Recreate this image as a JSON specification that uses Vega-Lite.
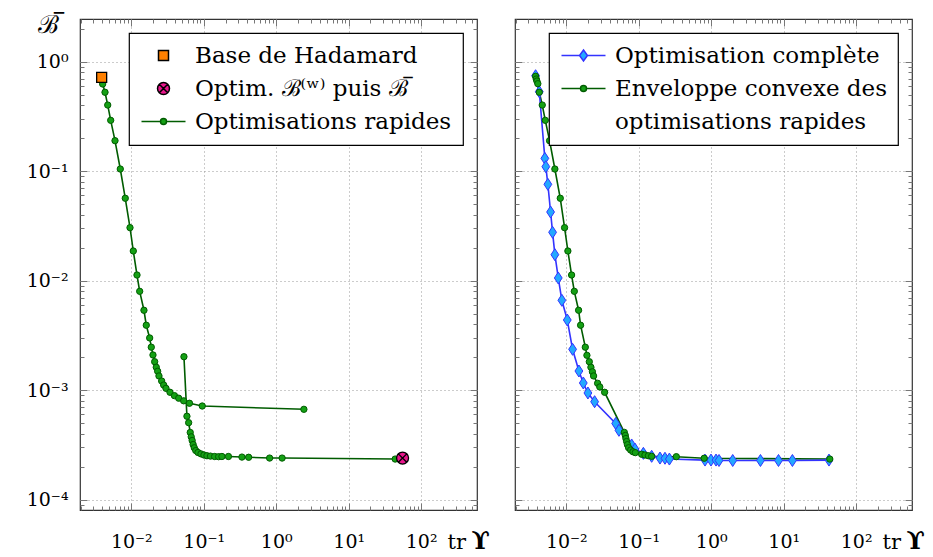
{
  "$schema": "https://vega.github.io/schema/vega-lite/v6.json",
  "background": "white",
  "padding": {"left": 25, "top": 11, "right": 0, "bottom": 0},
  "spacing": 38,
  "bounds": "flush",
  "config": {
    "font": "DejaVu Serif",
    "view": {"stroke": "#333", "strokeWidth": 1.2},
    "axis": {"domain": false, "labelFont": "DejaVu Serif", "titleFont": "DejaVu Serif", "labelColor": "black", "titleColor": "black", "tickColor": "#777", "tickWidth": 1, "gridColor": "#999", "gridDash": [1, 3], "gridWidth": 1, "labelOverlap": false, "labelFlush": false},
    "legend": {"orient": "top-right", "offset": 14, "padding": 11, "strokeColor": "black", "fillColor": "white", "strokeWidth": 1.2, "labelFont": "DejaVu Serif", "labelFontSize": 23, "labelColor": "black", "labelLimit": 500, "symbolSize": 400, "symbolStrokeWidth": 1.5, "symbolOffset": 12, "labelOffset": 20, "rowPadding": 9, "cornerRadius": 0}
  },
  "datasets": {
    "rapid": [
      {"run": 1, "x": 0.00403, "y": 0.626}, {"run": 1, "x": 0.00434, "y": 0.526}, {"run": 1, "x": 0.00473, "y": 0.402}, {"run": 1, "x": 0.0052, "y": 0.2916}, {"run": 1, "x": 0.00596, "y": 0.19}, {"run": 1, "x": 0.00705, "y": 0.1047}, {"run": 1, "x": 0.00826, "y": 0.0566}, {"run": 1, "x": 0.0096, "y": 0.0305}, {"run": 1, "x": 0.01066, "y": 0.01867}, {"run": 1, "x": 0.01199, "y": 0.01127}, {"run": 1, "x": 0.01306, "y": 0.008}, {"run": 1, "x": 0.01496, "y": 0.00537}, {"run": 1, "x": 0.0161, "y": 0.00392}, {"run": 1, "x": 0.01794, "y": 0.003}, {"run": 1, "x": 0.01888, "y": 0.00247}, {"run": 1, "x": 0.01993, "y": 0.002097}, {"run": 1, "x": 0.02103, "y": 0.00182}, {"run": 1, "x": 0.02212, "y": 0.00162}, {"run": 1, "x": 0.02312, "y": 0.001489}, {"run": 1, "x": 0.0241, "y": 0.001349}, {"run": 1, "x": 0.02626, "y": 0.001213}, {"run": 1, "x": 0.02799, "y": 0.001115}, {"run": 1, "x": 0.03011, "y": 0.00104}, {"run": 1, "x": 0.0342, "y": 0.000957}, {"run": 1, "x": 0.03944, "y": 0.000891}, {"run": 1, "x": 0.0451, "y": 0.000845}, {"run": 1, "x": 0.05282, "y": 0.0008}, {"run": 1, "x": 0.0635, "y": 0.00076}, {"run": 1, "x": 0.09535, "y": 0.000717}, {"run": 1, "x": 2.41, "y": 0.000669},
      {"run": 2, "x": 0.0533, "y": 0.002022}, {"run": 2, "x": 0.0586, "y": 0.000578}, {"run": 2, "x": 0.0619, "y": 0.000505}, {"run": 2, "x": 0.0651, "y": 0.000411}, {"run": 2, "x": 0.0672, "y": 0.000375}, {"run": 2, "x": 0.0692, "y": 0.000347}, {"run": 2, "x": 0.0714, "y": 0.000319}, {"run": 2, "x": 0.074, "y": 0.000298}, {"run": 2, "x": 0.0776, "y": 0.000281}, {"run": 2, "x": 0.0832, "y": 0.00027}, {"run": 2, "x": 0.0915, "y": 0.000262}, {"run": 2, "x": 0.1006, "y": 0.000256}, {"run": 2, "x": 0.1107, "y": 0.000252}, {"run": 2, "x": 0.1237, "y": 0.00025}, {"run": 2, "x": 0.1413, "y": 0.000248}, {"run": 2, "x": 0.1605, "y": 0.000247}, {"run": 2, "x": 0.1782, "y": 0.000248}, {"run": 2, "x": 0.2191, "y": 0.000248}, {"run": 2, "x": 0.3365, "y": 0.000245}, {"run": 2, "x": 0.4163, "y": 0.000244}, {"run": 2, "x": 0.811, "y": 0.00024}, {"run": 2, "x": 1.206, "y": 0.00024}, {"run": 2, "x": 43.8, "y": 0.000235}
    ],
    "special": [
      {"series": "Base de Hadamard", "x": 0.0039, "y": 0.72},
      {"series": "Optim. \u212c\u207d\u02b7\u207e puis \u212c\u0305", "x": 55.4, "y": 0.00024}
    ],
    "hull": [
      {"x": 0.00377, "y": 0.736}, {"x": 0.00385, "y": 0.695}, {"x": 0.00393, "y": 0.666}, {"x": 0.00405, "y": 0.63}, {"x": 0.00424, "y": 0.526}, {"x": 0.00466, "y": 0.402}, {"x": 0.00513, "y": 0.2916}, {"x": 0.00588, "y": 0.19}, {"x": 0.00696, "y": 0.1047}, {"x": 0.00826, "y": 0.0566}, {"x": 0.00947, "y": 0.0305}, {"x": 0.01052, "y": 0.01867}, {"x": 0.01184, "y": 0.01127}, {"x": 0.0129, "y": 0.008}, {"x": 0.01479, "y": 0.00537}, {"x": 0.01576, "y": 0.00392}, {"x": 0.0183, "y": 0.00247}, {"x": 0.01926, "y": 0.002083}, {"x": 0.02078, "y": 0.00182}, {"x": 0.02187, "y": 0.00162}, {"x": 0.02294, "y": 0.001473}, {"x": 0.02382, "y": 0.001349}, {"x": 0.02706, "y": 0.001156}, {"x": 0.02902, "y": 0.00107}, {"x": 0.03381, "y": 0.000957}, {"x": 0.0632, "y": 0.000412}, {"x": 0.0653, "y": 0.000386}, {"x": 0.0665, "y": 0.000362}, {"x": 0.068, "y": 0.00034}, {"x": 0.0698, "y": 0.000318}, {"x": 0.0725, "y": 0.000298}, {"x": 0.0773, "y": 0.000284}, {"x": 0.0832, "y": 0.000274}, {"x": 0.0897, "y": 0.000269}, {"x": 0.1096, "y": 0.00026}, {"x": 0.1218, "y": 0.000256}, {"x": 0.1357, "y": 0.000252}, {"x": 0.1507, "y": 0.000249}, {"x": 0.33, "y": 0.000247}, {"x": 0.8, "y": 0.000239}, {"x": 43.3, "y": 0.000235}
    ],
    "full": [
      {"x": 0.00377, "y": 0.745}, {"x": 0.00424, "y": 0.532}, {"x": 0.00506, "y": 0.131}, {"x": 0.00522, "y": 0.11}, {"x": 0.00557, "y": 0.0759}, {"x": 0.00607, "y": 0.0424}, {"x": 0.00647, "y": 0.02767}, {"x": 0.00696, "y": 0.01728}, {"x": 0.00775, "y": 0.01059}, {"x": 0.00869, "y": 0.00662}, {"x": 0.01032, "y": 0.004376}, {"x": 0.01222, "y": 0.002363}, {"x": 0.01493, "y": 0.001497}, {"x": 0.01717, "y": 0.001164}, {"x": 0.01988, "y": 0.000943}, {"x": 0.0246, "y": 0.000785}, {"x": 0.048, "y": 0.000497}, {"x": 0.0533, "y": 0.00043}, {"x": 0.0798, "y": 0.000316}, {"x": 0.0886, "y": 0.00029}, {"x": 0.1158, "y": 0.000265}, {"x": 0.1507, "y": 0.000249}, {"x": 0.1963, "y": 0.00024}, {"x": 0.2301, "y": 0.000239}, {"x": 0.2647, "y": 0.000235}, {"x": 0.821, "y": 0.00023}, {"x": 0.993, "y": 0.00023}, {"x": 1.165, "y": 0.00023}, {"x": 1.281, "y": 0.000228}, {"x": 1.98, "y": 0.000228}, {"x": 4.78, "y": 0.000228}, {"x": 8.48, "y": 0.000228}, {"x": 13.2, "y": 0.000228}, {"x": 42.2, "y": 0.00023}
    ]
  },
  "resolve": {
    "scale": {"x": "independent", "y": "independent", "fill": "independent", "stroke": "independent", "shape": "independent"},
    "legend": {"fill": "independent", "stroke": "independent", "shape": "independent"}
  },
  "hconcat": [
    {
      "width": 397,
      "height": 491,
      "resolve": {"axis": {"x": "independent", "y": "independent"}},
      "layer": [
        {
          "data": {"name": "rapid"},
          "mark": {"type": "line", "color": "#005c00", "strokeWidth": 1.6},
          "encoding": {
            "x": {"field": "x", "type": "quantitative", "scale": {"type": "log", "domain": [0.00196, 590], "nice": false},
              "axis": {"orient": "bottom", "values": [0.01, 0.1, 1, 10, 100], "ticks": false, "grid": true, "labelFontSize": 19, "labelPadding": 22,
                "labelExpr": "datum.value == 0.01 ? '10⁻²' : datum.value == 0.1 ? '10⁻¹' : datum.value == 1 ? '10⁰' : datum.value == 10 ? '10¹' : '10²'",
                "title": "tr", "titleFontSize": 21, "titleFontWeight": "normal", "titleAngle": 0, "titleAlign": "left", "titleBaseline": "alphabetic", "titleX": 367, "titleY": 38}},
            "y": {"field": "y", "type": "quantitative", "scale": {"type": "log", "domain": [0.0000805, 2.455], "nice": false},
              "axis": {"orient": "left", "values": [0.0001, 0.001, 0.01, 0.1, 1], "ticks": false, "grid": true, "labelFontSize": 19, "labelPadding": 12,
                "labelExpr": "datum.value == 1 ? '10⁰' : datum.value == 0.1 ? '10⁻¹' : datum.value == 0.01 ? '10⁻²' : datum.value == 0.001 ? '10⁻³' : '10⁻⁴'",
                "title": "\u212c\u0305", "titleFontSize": 25, "titleFontWeight": "normal", "titleAngle": 0, "titleAlign": "center", "titleBaseline": "alphabetic", "titleX": -32, "titleY": 13}},
            "detail": {"field": "run", "type": "nominal"}
          }
        },
        {
          "data": {"name": "rapid"},
          "mark": {"type": "point", "shape": "circle", "size": 40, "fill": "#14a014", "stroke": "#005c00", "strokeWidth": 1, "opacity": 1},
          "encoding": {
            "x": {"field": "x", "type": "quantitative", "scale": {"type": "log", "domain": [0.00196, 590], "nice": false},
              "axis": {"orient": "top", "values": [0.01, 0.1, 1, 10, 100], "labels": false, "grid": false, "tickSize": -7,
                "title": "ϒ", "titleFontSize": 24, "titleFontWeight": "bold", "titleAngle": 0, "titleAlign": "left", "titleBaseline": "alphabetic", "titleX": 391, "titleY": 529}},
            "y": {"field": "y", "type": "quantitative", "scale": {"type": "log", "domain": [0.0000805, 2.455], "nice": false},
              "axis": {"orient": "right", "values": [0.0001, 0.001, 0.01, 0.1, 1], "labels": false, "grid": false, "tickSize": -7, "title": null}}
          }
        },
        {
          "data": {"name": "special"},
          "mark": {"type": "point", "filled": true, "size": 400, "strokeWidth": 1.3, "opacity": 1},
          "encoding": {
            "x": {"field": "x", "type": "quantitative", "scale": {"type": "log", "domain": [0.00196, 590], "nice": false},
              "axis": {"orient": "bottom", "values": [0.01, 0.1, 1, 10, 100], "labels": false, "grid": false, "tickSize": -7, "title": null}},
            "y": {"field": "y", "type": "quantitative", "scale": {"type": "log", "domain": [0.0000805, 2.455], "nice": false},
              "axis": {"orient": "left", "values": [0.0001, 0.001, 0.01, 0.1, 1], "labels": false, "grid": false, "tickSize": -7, "title": null}},
            "fill": {"field": "series", "type": "nominal", "scale": {"domain": ["Base de Hadamard", "Optim. \u212c\u207d\u02b7\u207e puis \u212c\u0305", "Optimisations rapides"], "range": ["#ff8000", "#e8168c", "#14a014"]}, "legend": {"title": null}},
            "stroke": {"field": "series", "type": "nominal", "scale": {"domain": ["Base de Hadamard", "Optim. \u212c\u207d\u02b7\u207e puis \u212c\u0305", "Optimisations rapides"], "range": ["black", "black", "#005c00"]}, "legend": {"title": null}},
            "shape": {"field": "series", "type": "nominal", "scale": {"domain": ["Base de Hadamard", "Optim. \u212c\u207d\u02b7\u207e puis \u212c\u0305", "Optimisations rapides"], "range": ["M-0.5,-0.5H0.5V0.5H-0.5Z", "M0.6,0A0.6,0.6,0,1,1,-0.6,0A0.6,0.6,0,1,1,0.6,0ZM-0.42,-0.42L0.42,0.42M-0.42,0.42L0.42,-0.42", "M-2.2,0H-0.3M0.3,0H2.2M0.3,0A0.3,0.3,0,1,1,-0.3,0A0.3,0.3,0,1,1,0.3,0Z"]}, "legend": {"title": null}}
          }
        },
        {
          "data": {"values": []},
          "mark": {"type": "point", "opacity": 0},
          "encoding": {
            "x": {"field": "x", "type": "quantitative", "scale": {"type": "log", "domain": [0.00196, 590], "nice": false},
              "axis": {"orient": "bottom", "values": [0.002, 0.003, 0.004, 0.005, 0.006, 0.007, 0.008, 0.009, 0.02, 0.03, 0.04, 0.05, 0.06, 0.07, 0.08, 0.09, 0.2, 0.3, 0.4, 0.5, 0.6, 0.7, 0.8, 0.9, 2, 3, 4, 5, 6, 7, 8, 9, 20, 30, 40, 50, 60, 70, 80, 90, 200, 300, 400, 500], "labels": false, "grid": false, "tickSize": -4, "title": null}},
            "y": {"field": "y", "type": "quantitative", "scale": {"type": "log", "domain": [0.0000805, 2.455], "nice": false},
              "axis": {"orient": "left", "values": [0.00009, 0.0002, 0.0003, 0.0004, 0.0005, 0.0006, 0.0007, 0.0008, 0.0009, 0.002, 0.003, 0.004, 0.005, 0.006, 0.007, 0.008, 0.009, 0.02, 0.03, 0.04, 0.05, 0.06, 0.07, 0.08, 0.09, 0.2, 0.3, 0.4, 0.5, 0.6, 0.7, 0.8, 0.9, 2], "labels": false, "grid": false, "tickSize": -4, "title": null}}
          }
        },
        {
          "data": {"values": []},
          "mark": {"type": "point", "opacity": 0},
          "encoding": {
            "x": {"field": "x", "type": "quantitative", "scale": {"type": "log", "domain": [0.00196, 590], "nice": false},
              "axis": {"orient": "top", "values": [0.002, 0.003, 0.004, 0.005, 0.006, 0.007, 0.008, 0.009, 0.02, 0.03, 0.04, 0.05, 0.06, 0.07, 0.08, 0.09, 0.2, 0.3, 0.4, 0.5, 0.6, 0.7, 0.8, 0.9, 2, 3, 4, 5, 6, 7, 8, 9, 20, 30, 40, 50, 60, 70, 80, 90, 200, 300, 400, 500], "labels": false, "grid": false, "tickSize": -4, "title": null}},
            "y": {"field": "y", "type": "quantitative", "scale": {"type": "log", "domain": [0.0000805, 2.455], "nice": false},
              "axis": {"orient": "right", "values": [0.00009, 0.0002, 0.0003, 0.0004, 0.0005, 0.0006, 0.0007, 0.0008, 0.0009, 0.002, 0.003, 0.004, 0.005, 0.006, 0.007, 0.008, 0.009, 0.02, 0.03, 0.04, 0.05, 0.06, 0.07, 0.08, 0.09, 0.2, 0.3, 0.4, 0.5, 0.6, 0.7, 0.8, 0.9, 2], "labels": false, "grid": false, "tickSize": -4, "title": null}}
          }
        }
      ]
    },
    {
      "width": 397,
      "height": 491,
      "resolve": {"axis": {"x": "independent", "y": "independent"}},
      "layer": [
        {
          "data": {"name": "hull"},
          "mark": {"type": "line", "color": "#005c00", "strokeWidth": 1.6},
          "encoding": {
            "x": {"field": "x", "type": "quantitative", "scale": {"type": "log", "domain": [0.00196, 590], "nice": false},
              "axis": {"orient": "bottom", "values": [0.01, 0.1, 1, 10, 100], "ticks": false, "grid": true, "labelFontSize": 19, "labelPadding": 22,
                "labelExpr": "datum.value == 0.01 ? '10⁻²' : datum.value == 0.1 ? '10⁻¹' : datum.value == 1 ? '10⁰' : datum.value == 10 ? '10¹' : '10²'",
                "title": "tr", "titleFontSize": 21, "titleFontWeight": "normal", "titleAngle": 0, "titleAlign": "left", "titleBaseline": "alphabetic", "titleX": 367, "titleY": 38}},
            "y": {"field": "y", "type": "quantitative", "scale": {"type": "log", "domain": [0.0000805, 2.455], "nice": false},
              "axis": {"orient": "left", "values": [0.0001, 0.001, 0.01, 0.1, 1], "ticks": false, "grid": true, "labels": false, "title": null}}
          }
        },
        {
          "data": {"name": "full"},
          "mark": {"type": "line", "color": "#3333ff", "strokeWidth": 1.6},
          "encoding": {
            "x": {"field": "x", "type": "quantitative", "scale": {"type": "log", "domain": [0.00196, 590], "nice": false},
              "axis": {"orient": "top", "values": [0.01, 0.1, 1, 10, 100], "labels": false, "grid": false, "tickSize": -7,
                "title": "ϒ", "titleFontSize": 24, "titleFontWeight": "bold", "titleAngle": 0, "titleAlign": "left", "titleBaseline": "alphabetic", "titleX": 391, "titleY": 529}},
            "y": {"field": "y", "type": "quantitative", "scale": {"type": "log", "domain": [0.0000805, 2.455], "nice": false},
              "axis": {"orient": "right", "values": [0.0001, 0.001, 0.01, 0.1, 1], "labels": false, "grid": false, "tickSize": -7, "title": null}}
          }
        },
        {
          "data": {"name": "full"},
          "mark": {"type": "point", "shape": "M0,-1L0.65,0L0,1L-0.65,0Z", "size": 144, "fill": "#22a8ff", "stroke": "#3333ff", "strokeWidth": 1, "opacity": 1},
          "encoding": {
            "x": {"field": "x", "type": "quantitative", "scale": {"type": "log", "domain": [0.00196, 590], "nice": false},
              "axis": {"orient": "bottom", "values": [0.01, 0.1, 1, 10, 100], "labels": false, "grid": false, "tickSize": -7, "title": null}},
            "y": {"field": "y", "type": "quantitative", "scale": {"type": "log", "domain": [0.0000805, 2.455], "nice": false},
              "axis": {"orient": "left", "values": [0.0001, 0.001, 0.01, 0.1, 1], "labels": false, "grid": false, "tickSize": -7, "title": null}}
          }
        },
        {
          "data": {"name": "hull"},
          "mark": {"type": "point", "shape": "circle", "size": 40, "fill": "#14a014", "stroke": "#005c00", "strokeWidth": 1, "opacity": 1},
          "encoding": {
            "x": {"field": "x", "type": "quantitative", "scale": {"type": "log", "domain": [0.00196, 590], "nice": false},
              "axis": {"orient": "bottom", "values": [0.002, 0.003, 0.004, 0.005, 0.006, 0.007, 0.008, 0.009, 0.02, 0.03, 0.04, 0.05, 0.06, 0.07, 0.08, 0.09, 0.2, 0.3, 0.4, 0.5, 0.6, 0.7, 0.8, 0.9, 2, 3, 4, 5, 6, 7, 8, 9, 20, 30, 40, 50, 60, 70, 80, 90, 200, 300, 400, 500], "labels": false, "grid": false, "tickSize": -4, "title": null}},
            "y": {"field": "y", "type": "quantitative", "scale": {"type": "log", "domain": [0.0000805, 2.455], "nice": false},
              "axis": {"orient": "left", "values": [0.00009, 0.0002, 0.0003, 0.0004, 0.0005, 0.0006, 0.0007, 0.0008, 0.0009, 0.002, 0.003, 0.004, 0.005, 0.006, 0.007, 0.008, 0.009, 0.02, 0.03, 0.04, 0.05, 0.06, 0.07, 0.08, 0.09, 0.2, 0.3, 0.4, 0.5, 0.6, 0.7, 0.8, 0.9, 2], "labels": false, "grid": false, "tickSize": -4, "title": null}}
          }
        },
        {
          "data": {"values": []},
          "mark": {"type": "point", "filled": true, "opacity": 1},
          "encoding": {
            "x": {"field": "x", "type": "quantitative", "scale": {"type": "log", "domain": [0.00196, 590], "nice": false},
              "axis": {"orient": "top", "values": [0.002, 0.003, 0.004, 0.005, 0.006, 0.007, 0.008, 0.009, 0.02, 0.03, 0.04, 0.05, 0.06, 0.07, 0.08, 0.09, 0.2, 0.3, 0.4, 0.5, 0.6, 0.7, 0.8, 0.9, 2, 3, 4, 5, 6, 7, 8, 9, 20, 30, 40, 50, 60, 70, 80, 90, 200, 300, 400, 500], "labels": false, "grid": false, "tickSize": -4, "title": null}},
            "y": {"field": "y", "type": "quantitative", "scale": {"type": "log", "domain": [0.0000805, 2.455], "nice": false},
              "axis": {"orient": "right", "values": [0.00009, 0.0002, 0.0003, 0.0004, 0.0005, 0.0006, 0.0007, 0.0008, 0.0009, 0.002, 0.003, 0.004, 0.005, 0.006, 0.007, 0.008, 0.009, 0.02, 0.03, 0.04, 0.05, 0.06, 0.07, 0.08, 0.09, 0.2, 0.3, 0.4, 0.5, 0.6, 0.7, 0.8, 0.9, 2], "labels": false, "grid": false, "tickSize": -4, "title": null}},
            "fill": {"field": "series2", "type": "nominal", "scale": {"domain": ["Optimisation complète", "Enveloppe convexe des", "optimisations rapides"], "range": ["#22a8ff", "#14a014", "transparent"]}, "legend": {"title": null}},
            "stroke": {"field": "series2", "type": "nominal", "scale": {"domain": ["Optimisation complète", "Enveloppe convexe des", "optimisations rapides"], "range": ["#3333ff", "#005c00", "transparent"]}, "legend": {"title": null}},
            "shape": {"field": "series2", "type": "nominal", "scale": {"domain": ["Optimisation complète", "Enveloppe convexe des", "optimisations rapides"], "range": ["M-2.2,0H-0.4M0.4,0H2.2M0,-0.55L0.4,0L0,0.55L-0.4,0Z", "M-2.2,0H-0.3M0.3,0H2.2M0.3,0A0.3,0.3,0,1,1,-0.3,0A0.3,0.3,0,1,1,0.3,0Z", "M0,0Z"]}, "legend": {"title": null}}
          }
        }
      ]
    }
  ]
}
